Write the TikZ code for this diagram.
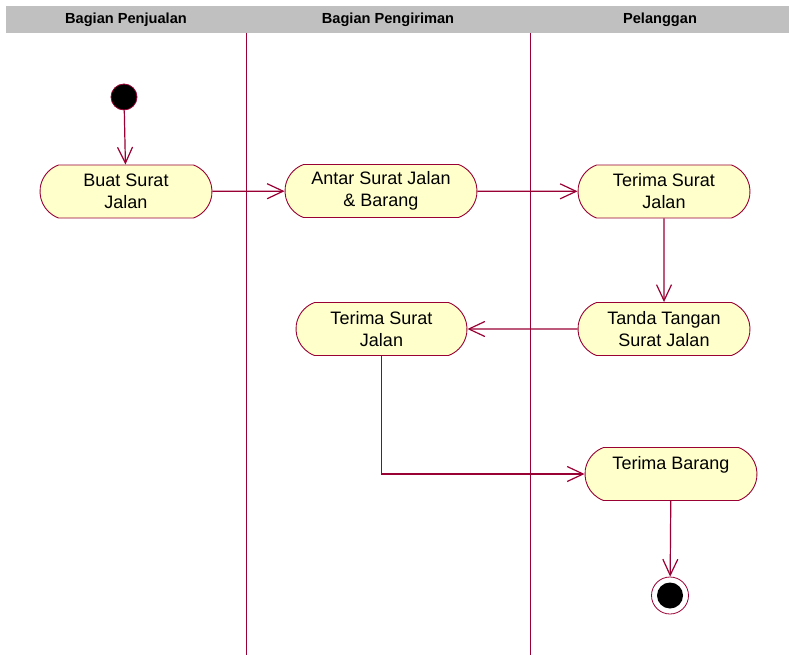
\documentclass[tikz,border=0pt]{standalone}
\usepackage{fontspec}
\setmainfont{Liberation Sans}
\usetikzlibrary{shapes.misc,arrows.meta}
\definecolor{umlline}{RGB}{153,0,51}
\definecolor{umlfill}{RGB}{255,255,204}
\definecolor{lanehead}{RGB}{192,192,192}
\begin{document}
\begin{tikzpicture}[x=1pt,y=-1pt,
  activity/.style={rounded rectangle, rounded rectangle arc length=140,
    draw=umlline, fill=umlfill, line width=0.9pt,
    minimum width=172pt, minimum height=53pt, inner sep=0pt,
    align=center, font=\fontsize{18}{22}\selectfont},
  flow/.style={draw=umlline, line width=1.2pt,
    -{Straight Barb[length=16pt,width=15pt,line width=1.2pt]}},
  lanehdr/.style={font=\fontsize{14.6}{17}\selectfont\bfseries},
  laneline/.style={draw=umlline, line width=0.9pt}]
\useasboundingbox (0,0) rectangle (789,655);

% swimlane header band and titles
\fill[lanehead] (6,6) rectangle (789,33);
\node[lanehdr] (h1) at (126,19.5) {Bagian Penjualan};
\node[lanehdr] (h2) at (388,19.5) {Bagian Pengiriman};
\node[lanehdr] (h3) at (660,19.5) {Pelanggan};

% swimlane separators
\coordinate (l1t) at (246,33); \coordinate (l1b) at (246,655);
\coordinate (l2t) at (530,33); \coordinate (l2b) at (530,655);
\draw[laneline] (l1t) -- (l1b);
\draw[laneline] (l2t) -- (l2b);

% initial and final states
\node[circle, fill=black, draw=umlline, line width=0.8pt, minimum size=26pt, inner sep=0pt] (start) at (124,97) {};
\node[circle, fill=white, draw=umlline, line width=0.8pt, minimum size=37pt, inner sep=0pt] (end) at (670,595.5) {};
\node[circle, fill=black, minimum size=26pt, inner sep=0pt] (endcore) at (end.center) {};

% activities
\node[activity] (buat)   at (126,191.5) {Buat Surat\\Jalan};
\node[activity, minimum width=192pt] (antar) at (381,191) {Antar Surat Jalan\\\& Barang};
\node[activity] (terimaP) at (664,191.5) {Terima Surat\\Jalan};
\node[activity] (tanda)  at (664,329) {Tanda Tangan\\Surat Jalan};
\node[activity, minimum width=171pt] (terimaK) at (381.5,329) {Terima Surat\\Jalan};
\node[activity] (barang) at (671,474) {Terima Barang\\\mbox{}};

% control flows
\draw[flow] (start) -- (buat);
\draw[flow] (buat) -- (antar);
\draw[flow] (antar) -- (terimaP);
\draw[flow] (terimaP) -- (tanda);
\draw[flow] (tanda) -- (terimaK);
\draw[flow] (terimaK.south) |- (barang.west);
\draw[flow] (barang) -- (end);
\end{tikzpicture}
\end{document}
